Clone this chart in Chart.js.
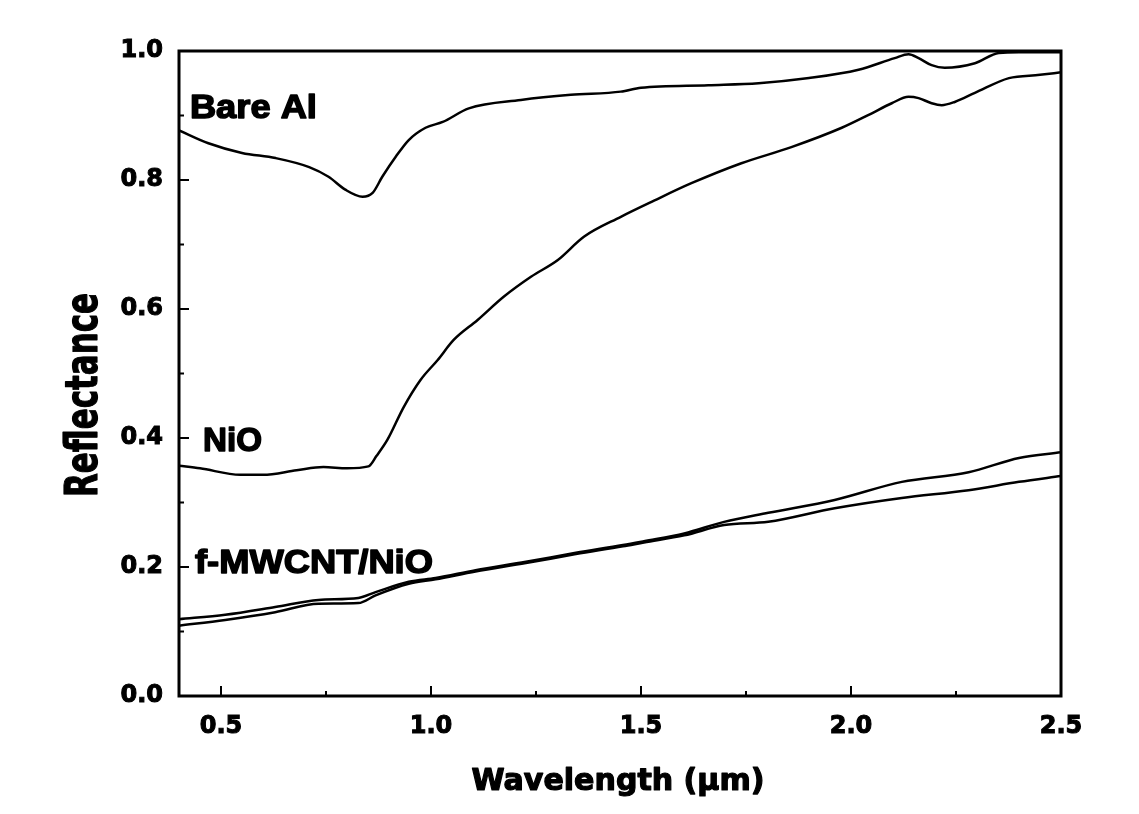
<!DOCTYPE html>
<html><head><meta charset="utf-8">
<script src="https://cdn.jsdelivr.net/npm/chart.js@4"></script>
<style>html,body{margin:0;padding:0;background:#fff}</style>
</head><body>
<canvas id="c" width="1139" height="814"></canvas>
<script>
// ---- tick labels ----
const xTicks = [0.5, 1.0, 1.5, 2.0, 2.5];
const xMinorTicks = [0.75, 1.25, 1.75, 2.25];
const yTicks = [0.0, 0.2, 0.4, 0.6, 0.8, 1.0];
const yMinorTicks = [0.1, 0.3, 0.5, 0.7, 0.9];

// ---- Bare Al ----
const bareX = [0.40,0.47,0.55,0.63,0.71,0.756,0.796,0.837,0.861,0.884,0.916,0.947,0.987,1.028,1.09,1.214,1.333,1.452,1.50,1.66,1.78,1.90,2.018,2.104,2.137,2.161,2.192,2.223,2.295,2.352,2.40,2.50];
const bareY = [0.877,0.857,0.842,0.834,0.820,0.805,0.785,0.774,0.780,0.805,0.836,0.862,0.881,0.890,0.911,0.924,0.932,0.937,0.943,0.947,0.950,0.958,0.971,0.989,0.995,0.989,0.978,0.974,0.981,0.997,0.998,0.998];

// ---- NiO ----
const nioX = [0.40,0.45,0.546,0.60,0.68,0.744,0.80,0.851,0.87,0.896,0.935,0.975,1.016,1.054,1.111,1.173,1.238,1.302,1.364,1.452,1.531,1.62,1.739,1.858,1.978,2.042,2.097,2.137,2.161,2.192,2.216,2.247,2.295,2.376,2.45,2.50];
const nioY = [0.357,0.353,0.343,0.343,0.350,0.355,0.353,0.356,0.372,0.397,0.448,0.49,0.521,0.552,0.583,0.619,0.650,0.676,0.712,0.743,0.768,0.795,0.826,0.851,0.881,0.901,0.919,0.929,0.927,0.919,0.916,0.921,0.935,0.958,0.963,0.967];

// ---- f-MWCNT/NiO (two traces) ----
const cntX = [0.40,0.51,0.629,0.732,0.827,0.868,0.947,1.011,1.106,1.226,1.345,1.457,1.507,1.603,1.698,1.803,1.961,2.121,2.28,2.40,2.50];
const cntAY = [0.119,0.126,0.138,0.149,0.152,0.161,0.177,0.183,0.195,0.208,0.222,0.234,0.240,0.252,0.270,0.284,0.304,0.332,0.347,0.369,0.378];
const cntBY = [0.109,0.118,0.130,0.143,0.144,0.156,0.174,0.181,0.193,0.206,0.220,0.232,0.238,0.249,0.265,0.270,0.291,0.307,0.319,0.332,0.341];

// ---- annotations (data coords) ----
const labelTexts = ["Bare Al", "NiO", "f-MWCNT/NiO"];
const labelX = [0.426, 0.457, 0.438];
const labelY = [0.896, 0.380, 0.191];

const xTitle = "Wavelength (\u00b5m)";
const yTitle = "Reflectance";

// style: rendered widths of the annotation texts (px)
const LABEL_W = [127, 59, 238];

function pts(xs, ys){ return xs.map((x,i)=>({x:x, y:ys[i]})); }
function ds(xs, ys){
  return {data: pts(xs, ys), borderColor:'#000', borderWidth:2.5, pointRadius:0,
          cubicInterpolationMode:'monotone', fill:false};
}

function fitText(ctx, text, x, y, font, targetW, align, strokeW){
  ctx.save();
  ctx.font = font;
  const w = ctx.measureText(text).width;
  const s = targetW ? targetW / w : 1;
  ctx.translate(x, y);
  ctx.scale(s, 1);
  ctx.textAlign = align || 'left';
  ctx.textBaseline = 'alphabetic';
  ctx.fillText(text, 0, 0);
  if (strokeW) { ctx.lineWidth = strokeW; ctx.strokeStyle = '#000'; ctx.lineJoin = 'round'; ctx.strokeText(text, 0, 0); }
  ctx.restore();
}

const framePlugin = {
  id: 'frame',
  beforeDraw(chart){
    const ctx = chart.ctx;
    ctx.save(); ctx.fillStyle = '#fff'; ctx.fillRect(0,0,chart.width,chart.height); ctx.restore();
  },
  afterDraw(chart){
    const ctx = chart.ctx, a = chart.chartArea;
    const xs = chart.scales.x, ys = chart.scales.y;
    ctx.save();
    ctx.strokeStyle = '#000';
    ctx.lineWidth = 3;
    ctx.strokeRect(a.left, a.top, a.right - a.left, a.bottom - a.top);
    ctx.lineWidth = 2;
    ctx.beginPath();
    xTicks.forEach(v=>{ const p = xs.getPixelForValue(v); ctx.moveTo(p, a.bottom); ctx.lineTo(p, a.bottom - 10); });
    xMinorTicks.forEach(v=>{ const p = xs.getPixelForValue(v); ctx.moveTo(p, a.bottom); ctx.lineTo(p, a.bottom - 5); });
    yTicks.forEach(v=>{ const p = ys.getPixelForValue(v); ctx.moveTo(a.left, p); ctx.lineTo(a.left + 10, p); });
    yMinorTicks.forEach(v=>{ const p = ys.getPixelForValue(v); ctx.moveTo(a.left, p); ctx.lineTo(a.left + 5, p); });
    ctx.stroke();
    ctx.fillStyle = '#000';
    // annotations
    labelTexts.forEach((t,i)=>{
      fitText(ctx, t, xs.getPixelForValue(labelX[i]), ys.getPixelForValue(labelY[i]), 'bold 34px "Liberation Sans"', LABEL_W[i], 'left', 1.5);
    });
    // axis titles
    fitText(ctx, xTitle, (a.left + a.right)/2 - 2, 790, 'bold 30px "DejaVu Sans"', 293, 'center', 1.2);
    ctx.save();
    ctx.translate(97, 395);
    ctx.rotate(-Math.PI/2);
    fitText(ctx, yTitle, 0, 0, 'bold 44px "DejaVu Sans"', 204, 'center', 1.2);
    ctx.restore();
    ctx.restore();
  }
};

const tickFont = { family: 'DejaVu Sans', weight: 'bold', size: 24 };

new Chart(document.getElementById('c'), {
  type: 'line',
  data: { datasets: [ds(bareX,bareY), ds(nioX,nioY), ds(cntX,cntAY), ds(cntX,cntBY)] },
  options: {
    responsive: false, animation: false, devicePixelRatio: 1,
    layout: { padding: { left: 0, top: 51, right: 78, bottom: 0 } },
    plugins: { legend: { display: false }, tooltip: { enabled: false } },
    scales: {
      x: {
        type: 'linear', min: 0.4, max: 2.5,
        afterBuildTicks: s => { s.ticks = xTicks.map(v=>({value:v})); },
        afterFit: s => { s.height = 118; },
        grid: { display: false, drawTicks: false, tickLength: 0 },
        border: { display: false },
        ticks: { color:'#000', font: tickFont, padding: 16, textStrokeWidth: 1, textStrokeColor: '#000',
                 maxRotation: 0, autoSkip: false, callback: v => Number(v).toFixed(1) }
      },
      y: {
        type: 'linear', min: 0, max: 1,
        afterBuildTicks: s => { s.ticks = yTicks.map(v=>({value:v})); },
        afterFit: s => { s.width = 179; },
        grid: { display: false, drawTicks: false, tickLength: 0 },
        border: { display: false },
        ticks: { color:'#000', font: tickFont, padding: 16, textStrokeWidth: 1, textStrokeColor: '#000',
                 autoSkip: false, callback: v => Number(v).toFixed(1) }
      }
    }
  },
  plugins: [framePlugin]
});
</script>
</body></html>
